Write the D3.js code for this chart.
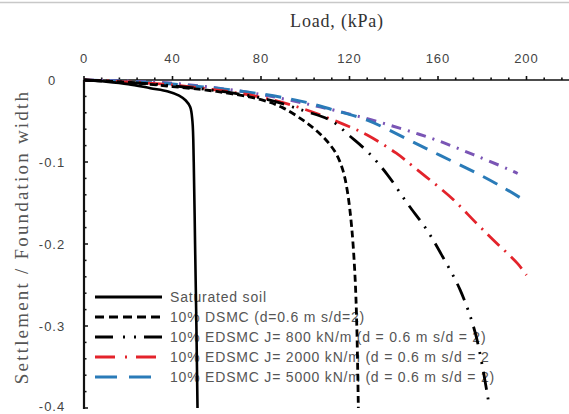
<!DOCTYPE html>
<html>
<head>
<meta charset="utf-8">
<script src="https://cdn.jsdelivr.net/npm/d3@7"></script>
<style>
  body { margin: 0; background: #fff; }
  svg { display: block; }
</style>
</head>
<body>
<div id="chart"></div>
<script>
// load (kPa) vs settlement / foundation width
var satLoad = [0, 10, 20, 30, 38, 43, 46, 48, 49, 49.6, 50.2, 50.8, 51.3];
var satS    = [0, -0.002, -0.005, -0.010, -0.014, -0.019, -0.025, -0.033, -0.05, -0.1, -0.2, -0.3, -0.4];

var dsmcLoad = [0, 20, 40, 60, 80, 90, 100, 106, 110, 114, 117, 119, 121, 122.5, 123.3, 124];
var dsmcS    = [0, -0.003, -0.008, -0.014, -0.024, -0.034, -0.051, -0.064, -0.075, -0.09, -0.11, -0.135, -0.18, -0.24, -0.3, -0.4];

var j800Load = [0, 40, 80, 100, 112, 120, 128, 137, 146, 155, 162, 170, 177, 183];
var j800S    = [0, -0.007, -0.022, -0.038, -0.050, -0.068, -0.087, -0.115, -0.150, -0.183, -0.215, -0.256, -0.31, -0.395];

var j2000Load = [0, 40, 80, 100, 120, 128, 141, 149, 161, 167, 177.5, 185, 196, 200];
var j2000S    = [0, -0.006, -0.021, -0.036, -0.057, -0.067, -0.089, -0.106, -0.132, -0.146, -0.175, -0.195, -0.224, -0.238];

var j5000Load = [0, 40, 80, 100, 112, 128, 146, 161, 177, 190, 198];
var j5000S    = [0, -0.005, -0.017, -0.027, -0.036, -0.049, -0.072, -0.092, -0.113, -0.132, -0.145];

var extraLoad = [0, 40, 74, 92, 107, 125, 143, 159, 176, 192, 196];
var extraS    = [0, -0.004, -0.015, -0.024, -0.033, -0.045, -0.059, -0.073, -0.091, -0.109, -0.114];

var xTicks = [0, 40, 80, 120, 160, 200];
var yTicks = [0, -0.1, -0.2, -0.3, -0.4];

var legendNames = [
  "Saturated soil",
  "10% DSMC (d=0.6 m s/d=2)",
  "10% EDSMC J= 800 kN/m (d = 0.6 m s/d = 2)",
  "10% EDSMC J= 2000 kN/m (d = 0.6 m s/d = 2",
  "10% EDSMC J= 5000 kN/m (d = 0.6 m s/d = 2)"
];

var width = 569, height = 414;
var x = d3.scaleLinear().domain([0, 240]).range([84, 615]);
var y = d3.scaleLinear().domain([0, -0.4]).range([80, 408]);

var svg = d3.select("#chart").append("svg")
  .attr("width", width)
  .attr("height", height);

// page edge line at top
svg.append("line").attr("x1", 0).attr("x2", width).attr("y1", 2.5).attr("y2", 2.5)
  .attr("stroke", "#c8c8c8").attr("stroke-width", 1.5);

svg.append("text")
  .attr("x", 337).attr("y", 27)
  .attr("text-anchor", "middle")
  .attr("font-family", "Liberation Serif, serif")
  .attr("font-size", 18)
  .attr("letter-spacing", 0.8)
  .attr("fill", "#333")
  .text("Load, (kPa)");

svg.append("text")
  .attr("transform", "translate(28,237) rotate(-90)")
  .attr("text-anchor", "middle")
  .attr("font-family", "Liberation Serif, serif")
  .attr("font-size", 19)
  .attr("letter-spacing", 2.2)
  .attr("fill", "#555")
  .text("Settlement / Foundation width");

// x axis on top
var xAxis = svg.append("g");
xAxis.append("line").attr("x1", x(0)).attr("x2", width).attr("y1", y(0)).attr("y2", y(0))
  .attr("stroke", "#111").attr("stroke-width", 1.6);
var xMinor = d3.range(0, 232, 8);
xAxis.selectAll(".xm").data(xMinor).enter().append("line")
  .attr("x1", function(d) { return x(d); }).attr("x2", function(d) { return x(d); })
  .attr("y1", y(0)).attr("y2", function(d) { return d % 40 === 0 ? y(0) - 4 : y(0) - 2.5; })
  .attr("stroke", "#111").attr("stroke-width", 1.6);
xAxis.selectAll(".xl").data(xTicks).enter().append("text")
  .attr("x", function(d) { return x(d); })
  .attr("y", 63)
  .attr("text-anchor", "middle")
  .attr("font-family", "Liberation Sans, sans-serif")
  .attr("font-size", 13)
  .attr("letter-spacing", 1)
  .attr("fill", "#444")
  .text(function(d) { return d; });

// y axis
var yAxis = svg.append("g");
yAxis.append("line").attr("x1", x(0)).attr("x2", x(0)).attr("y1", y(0)).attr("y2", y(-0.4) + 1)
  .attr("stroke", "#111").attr("stroke-width", 2.2);
var yMinor = d3.range(0, 21).map(function(i) { return -i * 0.02; });
yAxis.selectAll(".ym").data(yMinor).enter().append("line")
  .attr("x1", x(0)).attr("x2", function(d, i) { return i % 5 === 0 ? x(0) + 4 : x(0) + 2.5; })
  .attr("y1", function(d) { return y(d); }).attr("y2", function(d) { return y(d); })
  .attr("stroke", "#111").attr("stroke-width", 1.5);
yAxis.selectAll(".yl").data(yTicks).enter().append("text")
  .attr("x", 52)
  .attr("y", function(d) { return Math.min(y(d) + 5, 411); })
  .attr("text-anchor", "middle")
  .attr("font-family", "Liberation Sans, sans-serif")
  .attr("font-size", 13)
  .attr("letter-spacing", 1)
  .attr("fill", "#444")
  .text(function(d) { return d === 0 ? "0" : d.toFixed(1); });

var styles = [
  { color: "#000", dash: null, w: 2.6 },
  { color: "#000", dash: "7,4", w: 2.8 },
  { color: "#000", dash: "18,8,2,8,2,8", w: 2.8 },
  { color: "#e3232b", dash: "16,7,2,7", w: 2.8 },
  { color: "#2a7bb8", dash: "16,10", w: 3 }
];
var legendDash = [null, "9,5", "18,10,2,9,2,8", "20,10,2,9,20", "22,12"];

// legend (drawn under curves)
var legend = svg.append("g");
legendNames.forEach(function(name, i) {
  var ly = 297 + i * 20;
  legend.append("line")
    .attr("x1", 95).attr("x2", 162).attr("y1", ly).attr("y2", ly)
    .attr("stroke", styles[i].color)
    .attr("stroke-width", i === 0 ? 3 : styles[i].w)
    .attr("stroke-dasharray", legendDash[i]);
  legend.append("text")
    .attr("x", 170).attr("y", ly + 5)
    .attr("font-family", "Liberation Sans, sans-serif")
    .attr("font-size", 14)
    .attr("letter-spacing", 0.8)
    .attr("fill", "#555")
    .text(name);
});

var lineV = d3.line()
  .x(function(d) { return x(d[0]); })
  .y(function(d) { return y(d[1]); })
  .curve(d3.curveCatmullRom);

function zip(a, b) { return a.map(function(v, i) { return [v, b[i]]; }); }

var series = [
  [satLoad, satS],
  [dsmcLoad, dsmcS],
  [j800Load, j800S],
  [j2000Load, j2000S],
  [j5000Load, j5000S]
];

// extra purple curve (not in legend)
svg.append("path")
  .attr("d", lineV(zip(extraLoad, extraS)))
  .attr("fill", "none")
  .attr("stroke", "#7a55b5")
  .attr("stroke-width", 3)
  .attr("stroke-dasharray", "10,7,2,7");

for (var k = series.length - 1; k >= 0; k--) {
  svg.append("path")
    .attr("d", lineV(zip(series[k][0], series[k][1])))
    .attr("fill", "none")
    .attr("stroke", styles[k].color)
    .attr("stroke-width", styles[k].w)
    .attr("stroke-dasharray", styles[k].dash);
}
</script>
</body>
</html>
